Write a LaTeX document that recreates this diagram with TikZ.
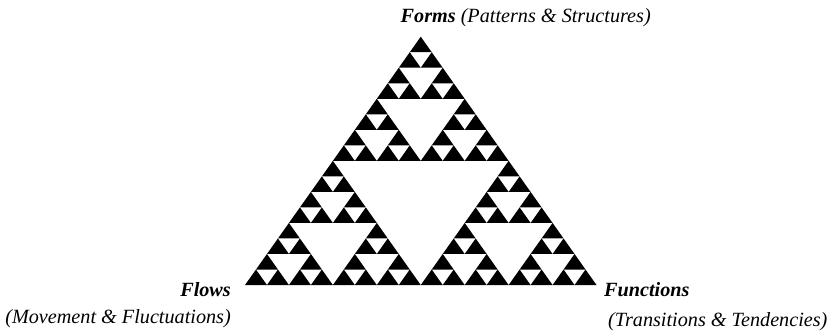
\documentclass[tikz,border=0pt]{standalone}
\usepackage{fontspec}
\setmainfont{Liberation Serif}
\begin{document}
\begin{tikzpicture}[x=1pt,y=-1pt,
  lbl/.style={inner sep=0pt, font=\fontsize{20.2}{24}\selectfont},
  blk/.style={fill=black}]
\useasboundingbox (0,0) rectangle (832,331);
\def\ax{420.75}\def\ay{36.7}\def\sw{21.97}\def\sh{15.52}
\foreach \r in {0,...,15}{
  \foreach \k in {0,...,\r}{
    \pgfmathtruncatemacro\bad{mod(\k,2)*(1-mod(\r,2)) + mod(floor(\k/2),2)*(1-mod(floor(\r/2),2)) + mod(floor(\k/4),2)*(1-mod(floor(\r/4),2)) + mod(floor(\k/8),2)*(1-mod(floor(\r/8),2))}
    \ifnum\bad=0
      \fill[blk] ({\ax+(\k-\r/2)*\sw},{\ay+\r*\sh}) -- ++({-\sw/2},\sh) -- ++(\sw,0) -- cycle;
    \fi
  }
}
\node[lbl, anchor=base west] (forms) at (400.5,22.5) {\textbf{\textit{Forms}} \textit{(Patterns \& Structures)}};
\node[lbl, anchor=base east] (flows) at (231,296) {\textbf{\textit{Flows}}};
\node[lbl, anchor=base east] (flowsub) at (231,323) {\textit{(Movement \& Fluctuations)}};
\node[lbl, anchor=base west] (func) at (604,296) {\textbf{\textit{Functions}}};
\node[lbl, anchor=base west] (funcsub) at (608,326) {\textit{(Transitions \& Tendencies)}};
\end{tikzpicture}
\end{document}
